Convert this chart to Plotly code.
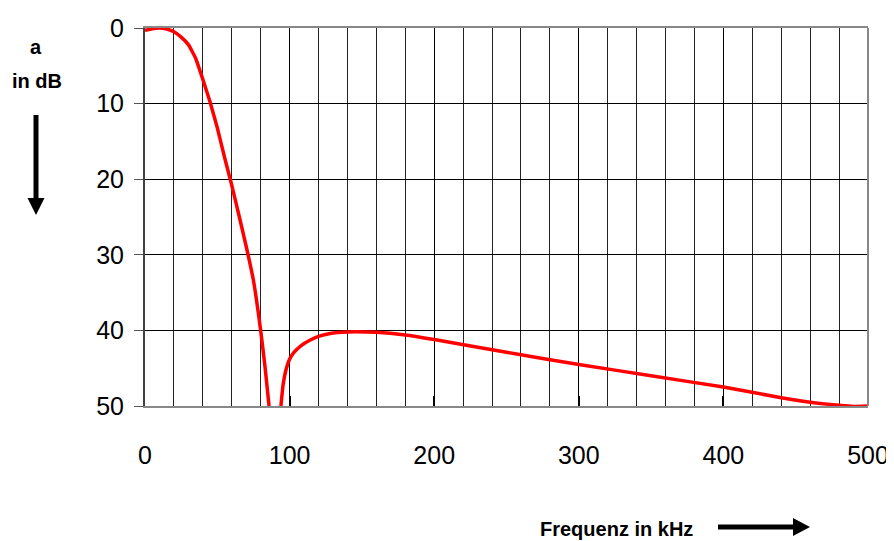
import plotly.graph_objects as go

# ---- data ----
freq_khz = [0, 5, 10, 15, 20, 25, 30, 35, 40, 45, 50, 55, 60, 65, 70, 75, 80, 83, 85.8,
            None,
            94, 95.5, 97.5, 100, 103, 108, 114, 120, 128, 140, 160, 180, 200, 250,
            300, 350, 400, 440, 460, 480, 490, 500]
atten_db = [0.3, 0.1, 0.0, 0.15, 0.5, 1.2, 2.2, 4.0, 6.8, 9.8, 13.2, 17.1, 20.8, 24.8, 28.9,
            33.4, 40.0, 44.8, 50.0,
            None,
            50.0, 47.2, 45.2, 43.8, 42.9, 42.0, 41.3, 40.8, 40.4, 40.2, 40.25, 40.6, 41.2, 42.9,
            44.5, 46.0, 47.5, 48.9, 49.5, 49.9, 50.05, 50.0]
x_ticks = [0, 100, 200, 300, 400, 500]
y_ticks = [0, 10, 20, 30, 40, 50]

# page is rendered with an 8px body margin, so the figure is offset by 8px
OFF = 8
W, H = 894 - OFF, 541 - OFF
PL, PR, PT, PB = 145, 868, 28, 406  # plot area in window pixels
L, T = PL - OFF, PT - OFF
R, B = W - (PR - OFF), H - (PB - OFF)
PW, PH = PR - PL, PB - PT


def px(x):
    return (x - PL) / PW


def py(y):
    return (PB - y) / PH


FONT = "Liberation Sans, Arial, sans-serif"

fig = go.Figure()
fig.add_trace(go.Scatter(
    x=freq_khz, y=atten_db, mode="lines",
    line=dict(color="#ff0000", width=3.5, shape="spline", smoothing=0.4),
    connectgaps=False, hoverinfo="skip", showlegend=False,
))

fig.update_layout(
    width=W, height=H,
    margin=dict(l=L, r=R, t=T, b=B, autoexpand=False),
    paper_bgcolor="white", plot_bgcolor="white",
    font=dict(family=FONT, color="black"),
    xaxis=dict(
        range=[0, 500], tickvals=x_ticks, ticktext=[str(v) for v in x_ticks],
        showgrid=True, gridcolor="black", gridwidth=1,
        minor=dict(dtick=20, showgrid=True, gridcolor="#222", gridwidth=1),
        showline=True, linecolor="#888", linewidth=2, mirror=True,
        ticks="inside", ticklen=10, tickcolor="black", tickwidth=1.5,
        tickfont=dict(size=25, family=FONT), ticklabelstandoff=26,
        zeroline=False, fixedrange=True, automargin=False,
    ),
    yaxis=dict(
        range=[50, 0], tickvals=y_ticks, ticktext=[str(v) for v in y_ticks],
        showgrid=True, gridcolor="black", gridwidth=1,
        showline=True, linecolor="#404040", linewidth=2,
        ticks="outside", ticklen=9, tickcolor="#555", tickwidth=1,
        tickfont=dict(size=25, family=FONT), ticklabelstandoff=5,
        zeroline=False, fixedrange=True, automargin=False,
    ),
)

# right border
fig.add_shape(type="line", xref="paper", yref="paper", x0=1, x1=1, y0=0, y1=1,
              line=dict(color="#888", width=2))

# axis captions
cap = dict(xref="paper", yref="paper", showarrow=False, xanchor="center", yanchor="middle",
           font=dict(size=20, family=FONT))
fig.add_annotation(text="<b>a</b>", x=px(36), y=py(47), **cap)
fig.add_annotation(text="<b>in dB</b>", x=px(37), y=py(81), **cap)
fig.add_annotation(text="<b>Frequenz in kHz</b>", x=px(616), y=py(529), **cap)

# down arrow
fig.add_shape(type="line", xref="paper", yref="paper", x0=px(36), x1=px(36), y0=py(115), y1=py(200),
              line=dict(color="black", width=5))
fig.add_shape(type="path", xref="paper", yref="paper",
              path=f"M {px(27.5)} {py(198)} L {px(44.5)} {py(198)} L {px(36)} {py(215)} Z",
              fillcolor="black", line=dict(color="black", width=0))
# right arrow
fig.add_shape(type="line", xref="paper", yref="paper", x0=px(718), x1=px(795), y0=py(527), y1=py(527),
              line=dict(color="black", width=5))
fig.add_shape(type="path", xref="paper", yref="paper",
              path=f"M {px(793)} {py(518)} L {px(793)} {py(536)} L {px(810)} {py(527)} Z",
              fillcolor="black", line=dict(color="black", width=0))

fig.write_html("out.html")
